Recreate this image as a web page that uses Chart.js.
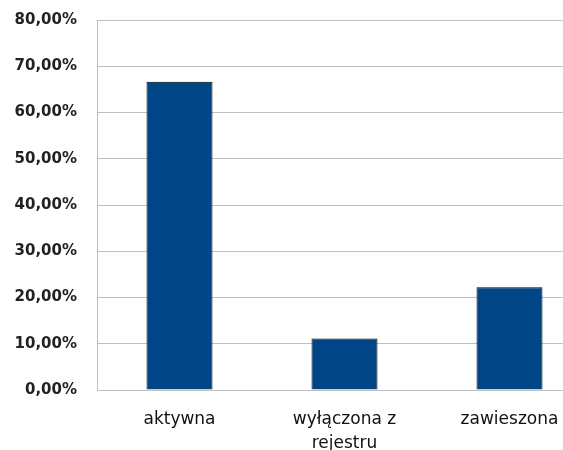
<!DOCTYPE html>
<html>
<head>
<meta charset="utf-8">
<script src="https://cdn.jsdelivr.net/npm/chart.js@4"></script>
<style>
  html, body { margin: 0; padding: 0; background: #fff; overflow: hidden; }
</style>
</head>
<body>
<canvas id="status" width="592" height="450"></canvas>
<script>
var categories = ['aktywna', ['wyłączona z', 'rejestru'], 'zawieszona'];
var shares = [0.6667, 0.1111, 0.2222];
var yTicks = [0, 0.1, 0.2, 0.3, 0.4, 0.5, 0.6, 0.7, 0.8];

var ctx = document.getElementById('status').getContext('2d');
new Chart(ctx, {
    type: 'bar',
    data: {
        labels: categories,
        datasets: [{
            data: shares,
            backgroundColor: '#004586',
            borderColor: '#000',
            borderWidth: 1,
            barPercentage: 0.5,
            categoryPercentage: 0.8
        }]
    },
    options: {
        responsive: false,
        animation: false,
        layout: { padding: 0 },
        plugins: { legend: { display: false }, tooltip: { enabled: false } },
        scales: {
            x: {
                grid: { display: false, drawTicks: false },
                border: { color: '#bfbfbf' },
                ticks: {
                    padding: 18,
                    color: '#111',
                    maxRotation: 0,
                    font: { family: 'DejaVu Sans', size: 17, lineHeight: 1.4 }
                },
                afterFit: function(s) { s.height = 60; }
            },
            y: {
                min: 0,
                max: 0.8,
                afterBuildTicks: function(s) { s.ticks = yTicks.map(function(v) { return { value: v }; }); },
                grid: { color: '#bfbfbf', drawTicks: false },
                border: { color: '#bfbfbf' },
                ticks: {
                    padding: 20,
                    color: '#222',
                    font: { family: 'DejaVu Sans', size: 15, weight: 'bold' },
                    callback: function(v) { return (v * 100).toFixed(2).replace('.', ',') + '%'; }
                },
                // plot area starts at x=97, top at y=20
                afterFit: function(s) { s.width = 97; s.paddingTop = 20; }
            }
        }
    }
});
</script>
</body>
</html>
